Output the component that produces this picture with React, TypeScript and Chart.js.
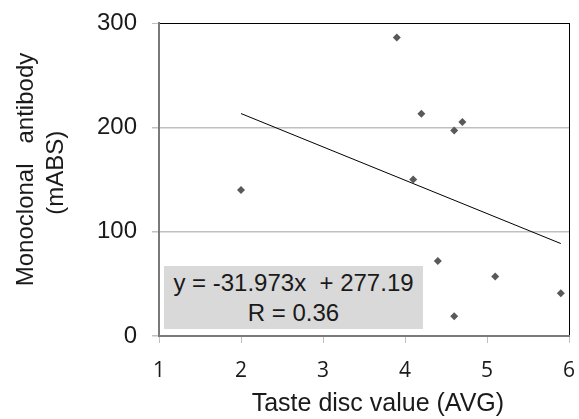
import React, { useEffect, useRef } from "react";
import { Chart, registerables } from "chart.js";

Chart.register(...registerables);

const tasteX = [2.0, 3.9, 4.2, 4.6, 4.7, 4.1, 4.4, 5.1, 5.9, 4.6];
const antibodyY = [140, 286, 213, 197, 205, 150, 72, 57, 41, 19];
const trendX = [2.0, 5.9];
const trendY = [213.2, 88.6];
const equationLines = ["y = -31.973x  + 277.19", "R = 0.36"];
const xTitle = "    Taste disc value (AVG)";
const yTitle = ["   Monoclonal   antibody", "  (mABS)"];

export default function App() {
  const ref = useRef<HTMLCanvasElement | null>(null);
  useEffect(() => {
    if (!ref.current) return;
    const chart = new Chart(ref.current, {
      type: "scatter",
      data: {
        datasets: [
          {
            label: "points",
            data: tasteX.map((x, i) => ({ x, y: antibodyY[i] })),
            pointStyle: "rectRot",
            pointRadius: 4,
            backgroundColor: "#595959",
            borderColor: "#595959",
            borderWidth: 0,
          },
          {
            type: "line",
            label: "trend",
            data: trendX.map((x, i) => ({ x, y: trendY[i] })),
            borderColor: "#000000",
            borderWidth: 1,
            pointRadius: 0,
            fill: false,
          } as any,
        ],
      },
      options: {
        responsive: false,
        animation: false,
        layout: { padding: { top: 23, right: 10, left: 0, bottom: 0 } },
        plugins: { legend: { display: false }, tooltip: { enabled: false } },
        scales: {
          x: {
            type: "linear",
            min: 1,
            max: 6,
            afterFit: (s: any) => {
              s.height = 83;
              s.paddingLeft = 0;
              s.paddingRight = 0;
            },
            ticks: {
              stepSize: 1,
              padding: 15,
              color: "#1a1a1a",
              font: { family: "'Open Sans'", size: 21 },
            },
            grid: {
              color: (ctx: any) => (ctx.tick && ctx.tick.value === 6 ? "#000000" : "rgba(0,0,0,0)"),
              tickColor: "#c0c0c0",
              tickLength: 7,
              lineWidth: 1,
            },
            border: { color: "#7a7a7a", width: 2 },
            title: {
              display: true,
              text: xTitle,
              color: "#1a1a1a",
              font: { family: "'Liberation Sans'", size: 25, lineHeight: 1.16 },
              padding: { top: 0, bottom: 0 },
            },
          },
          y: {
            type: "linear",
            min: 0,
            max: 300,
            afterFit: (s: any) => {
              s.width = 159;
              s.paddingTop = 0;
              s.paddingBottom = 0;
            },
            ticks: {
              stepSize: 100,
              padding: 15,
              color: "#1a1a1a",
              font: { family: "'Liberation Sans'", size: 24 },
            },
            grid: {
              color: (ctx: any) => {
                const v = ctx.tick ? ctx.tick.value : -1;
                if (v === 300) return "#000000";
                if (v === 0) return "rgba(0,0,0,0)";
                return "#c0c0c0";
              },
              tickColor: "#c0c0c0",
              tickLength: 7,
              lineWidth: (ctx: any) => (ctx.tick && ctx.tick.value === 300 ? 1 : 1.5),
            },
            border: { color: "#7a7a7a", width: 2 },
            title: {
              display: true,
              text: yTitle,
              color: "#1a1a1a",
              font: { family: "'Liberation Sans'", size: 24, lineHeight: 1.25 },
              padding: { top: 11, bottom: 0 },
            },
          },
        },
      },
    });
    return () => chart.destroy();
  }, []);

  return (
    <div style={{ position: "fixed", left: 0, top: 0, width: 579, height: 419, background: "#ffffff" }}>
      <canvas ref={ref} width={579} height={419} style={{ display: "block" }} />
      <div
        style={{
          position: "absolute",
          left: 164,
          top: 266,
          width: 259,
          height: 63,
          background: "#d9d9d9",
          fontFamily: "'Liberation Sans'",
          fontSize: 24,
          lineHeight: "30px",
          color: "#1a1a1a",
          textAlign: "center",
          whiteSpace: "pre",
          paddingTop: 2,
          boxSizing: "border-box",
        }}
      >
        {equationLines.map((l, i) => (
          <div key={i}>{l}</div>
        ))}
      </div>
    </div>
  );
}
